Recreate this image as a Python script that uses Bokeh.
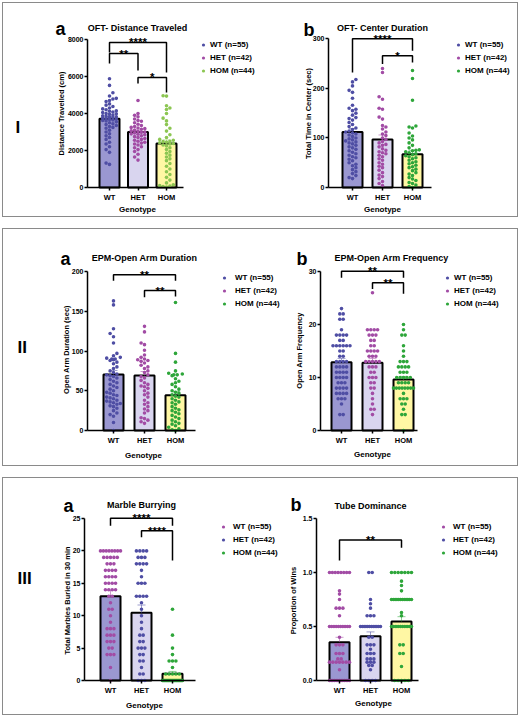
import math
from bokeh.plotting import figure
from bokeh.models import Range1d, FixedTicker, Label, Legend, LegendItem, NumeralTickFormatter
from bokeh.layouts import row, column
from bokeh.embed import file_html
from bokeh.resources import INLINE
from bokeh.core.properties import value

# ---------------- data ----------------
categories = ["WT", "HET", "HOM"]
legend_labels = ["WT (n=55)", "HET (n=42)", "HOM (n=44)"]

# I a: OFT distance travelled (cm)
oft_dist_wt = [5880, 5520, 5120, 4950, 4820, 4780, 4700, 4650, 4520, 4450, 4380, 4300, 4250, 4200, 4150,
               4120, 4080, 4050, 4000, 3980, 3950, 3920, 3880, 3850, 3820, 3800, 3780, 3750, 3720, 3700,
               3680, 3650, 3620, 3600, 3550, 3500, 3450, 3400, 3350, 3300, 3250, 3200, 3100, 3000, 2900,
               2800, 2700, 2600, 2450, 2350, 2200, 2050, 1900, 1320, 1250]
oft_dist_het = [4700, 4000, 3900, 3820, 3700, 3620, 3580, 3500, 3420, 3350, 3300, 3250, 3220, 3180, 3150,
                3100, 3060, 3020, 3000, 2980, 2950, 2900, 2880, 2850, 2800, 2750, 2700, 2650, 2600, 2550,
                2500, 2450, 2400, 2350, 2300, 2200, 2150, 2050, 1950, 1800, 1650, 1480]
oft_dist_hom = [4960, 4940, 4420, 4300, 4220, 4000, 3750, 3600, 3400, 3200, 3050, 2850, 2700, 2600, 2550,
                2500, 2480, 2450, 2420, 2380, 2350, 2300, 2250, 2150, 2050, 1950, 1850, 1750, 1650, 1550,
                1450, 1300, 1150, 1000, 850, 700, 550, 400, 250, 150, 100, 80, 50, 30]
oft_dist_mean = [3720, 3000, 2380]
oft_dist_sem = [120, 105, 190]

# I b: OFT center duration (sec)
oft_center_wt = [218, 213, 205, 196, 192, 180, 166, 160, 158, 155, 150, 146, 141, 139, 136, 131, 127, 123,
                 120, 117, 114, 112, 110, 108, 106, 103, 100, 98, 96, 94, 92, 90, 88, 85, 82, 80, 77, 74,
                 71, 68, 65, 62, 60, 57, 54, 50, 47, 44, 40, 36, 32, 28, 24, 20, 18]
oft_center_het = [240, 232, 183, 178, 160, 158, 142, 138, 125, 122, 118, 112, 108, 105, 100, 97, 93, 90,
                  87, 85, 82, 78, 75, 72, 70, 68, 65, 62, 58, 55, 50, 47, 43, 40, 35, 30, 25, 22, 18, 12, 8, 4]
oft_center_hom = [236, 220, 176, 124, 122, 120, 110, 104, 100, 96, 90, 85, 80, 76, 75, 74, 72, 70, 68, 66,
                  64, 62, 60, 58, 55, 52, 50, 48, 45, 42, 40, 37, 34, 30, 27, 24, 20, 17, 14, 10, 8, 5, 2, 0]
oft_center_mean = [112, 97, 67]
oft_center_sem = [7, 9, 8]

# II a: EPM open arm duration (sec)
epm_dur_wt = [163, 158, 128, 122, 118, 110, 97, 94, 92, 91, 90, 90, 89, 88, 86, 84, 80, 78, 75, 73, 71, 70,
              69, 68, 66, 64, 62, 60, 58, 56, 54, 52, 50, 48, 47, 45, 44, 42, 41, 40, 38, 37, 36, 35, 34,
              33, 31, 30, 28, 25, 22, 20, 18, 10, 0]
epm_dur_het = [131, 124, 110, 108, 101, 95, 92, 90, 89, 88, 87, 85, 82, 80, 78, 75, 73, 70, 68, 66, 63, 60,
               58, 56, 55, 53, 50, 47, 45, 42, 38, 35, 33, 30, 27, 25, 22, 16, 15, 13, 11, 9]
epm_dur_hom = [161, 97, 86, 75, 72, 71, 70, 70, 69, 65, 62, 60, 58, 55, 52, 50, 48, 47, 45, 43, 42, 40, 38,
               36, 35, 33, 30, 28, 26, 25, 23, 21, 19, 17, 15, 13, 11, 9, 8, 6, 4, 2, 1, 0]
epm_dur_mean = [70.5, 69.2, 44.3]
epm_dur_sem = [5, 5, 5]

# II b: EPM open arm frequency
epm_freq_wt = [23, 22, 22, 21, 21, 19, 18, 18, 18, 18, 17, 17, 16, 16, 16, 16, 16, 16, 15, 15, 14, 14,
               13, 13, 13, 13, 12, 12, 12, 12, 11, 11, 11, 11, 10, 10, 10, 10, 9, 9, 9, 8, 8, 8, 8,
               7, 7, 7, 7, 6, 6, 6, 5, 3, 3]
epm_freq_het = [26, 19, 19, 19, 19, 18, 18, 18, 17, 17, 16, 16, 15, 15, 15, 15, 14, 14, 14, 13, 13, 13,
                13, 13, 12, 12, 12, 11, 11, 10, 10, 10, 9, 9, 8, 8, 7, 6, 5, 4, 4, 3]
epm_freq_hom = [20, 19, 18, 18, 16, 15, 14, 13, 13, 13, 12, 12, 12, 12, 11, 11, 11, 10, 10, 10, 10, 10,
                9, 9, 9, 9, 8, 8, 8, 8, 8, 8, 8, 8, 7, 6, 6, 6, 5, 5, 4, 3, 3, 0]
epm_freq_mean = [12.9, 12.8, 9.6]
epm_freq_sem = [0.7, 0.8, 0.6]

# III a: marbles buried in 30 min
marble_wt = [20, 20, 20, 20, 20, 20, 20, 20, 19, 19, 19, 19, 19, 18, 18, 18, 17, 17, 17, 17, 16, 16, 16, 16,
             15, 15, 15, 15, 14, 14, 14, 14, 13, 13, 12, 11, 11, 10, 9, 8, 8, 8, 7, 7, 7, 6, 6, 6, 5, 5,
             4, 4, 4, 2, 0]
marble_het = [20, 20, 20, 20, 19, 19, 19, 18, 18, 18, 18, 17, 16, 15, 15, 15, 13, 13, 13, 13, 12, 11, 10,
              9, 8, 7, 7, 6, 6, 5, 5, 5, 4, 4, 3, 3, 2, 1, 1, 0, 0, 0]
marble_hom = [11, 7, 5, 4, 3, 3, 3, 2, 1, 1, 1, 1, 1, 0, 0, 0, 0, 0, 0, 0, 0, 0, 0, 0, 0, 0, 0, 0, 0, 0, 0,
              0, 0, 0, 0, 0, 0, 0, 0, 0, 0, 0, 0, 0]
marble_mean = [13.0, 10.45, 1.05]
marble_sem = [0.9, 1.2, 0.35]

# III b: tube dominance, proportion of wins
tube_wt = [1.0, 1.0, 1.0, 1.0, 1.0, 1.0, 1.0, 1.0, 0.83, 0.8, 0.75, 0.67, 0.67, 0.67, 0.6,
           0.5, 0.5, 0.5, 0.5, 0.5, 0.5, 0.5, 0.5, 0.5, 0.5, 0.4, 0.33, 0.33, 0.33, 0.25, 0.25, 0.25,
           0.2, 0.2, 0.17, 0.17, 0.17, 0.17, 0.17, 0.17, 0.17, 0.1,
           0, 0, 0, 0, 0, 0, 0, 0, 0, 0, 0, 0, 0]
tube_het = [1.0, 1.0, 0.75, 0.71, 0.67, 0.6, 0.6, 0.6, 0.5, 0.5, 0.5, 0.5, 0.5, 0.5, 0.5, 0.5, 0.5, 0.5,
            0.5, 0.5, 0.4, 0.4, 0.33, 0.33, 0.33, 0.29, 0.25, 0.25, 0.25, 0.2, 0.2, 0.2, 0.17, 0.17, 0.17,
            0.14, 0.14, 0.1, 0, 0, 0, 0]
tube_hom = [1.0, 1.0, 1.0, 1.0, 1.0, 1.0, 1.0, 0.92, 0.88, 0.83, 0.75, 0.75, 0.75, 0.75, 0.75, 0.75,
            0.75, 0.75, 0.75, 0.75, 0.75, 0.75, 0.63, 0.6, 0.5, 0.5, 0.5, 0.5, 0.5, 0.5, 0.5, 0.5, 0.5,
            0.5, 0.33, 0.33, 0.25, 0.25, 0.13, 0, 0, 0, 0, 0]
tube_mean = [0.355, 0.41, 0.546]
tube_sem = [0.045, 0.04, 0.045]

# significance brackets: (group a, group b, bar level, leg end a, leg end b, label)
oft_dist_sig = [("WT", "HOM", 7840, 7300, 6220, "****"),
                ("WT", "HET", 7240, 6700, 6320, "**"),
                ("HET", "HOM", 5950, 5620, 5140, "*")]
oft_center_sig = [("WT", "HOM", 300, 232, 276, "****"),
                  ("HET", "HOM", 266, 249, 252, "*")]
epm_dur_sig = [("WT", "HOM", 196, 188.5, 188.5, "**"),
               ("HET", "HOM", 176, 167.5, 168.5, "**")]
epm_freq_sig = [("WT", "HOM", 30.05, 28.8, 28.8, "**"),
                ("HET", "HOM", 27.9, 26.7, 25.8, "**")]
marble_sig = [("WT", "HOM", 25.05, 23.9, 23.9, "****"),
              ("HET", "HOM", 23.1, 22.1, 18.5, "****")]
tube_sig = [("WT", "HOM", 1.30, 1.11, 1.23, "**")]

# ---------------- style ----------------
FONT = "Liberation Sans"
BLUE = "#4F4EA4"
MAGENTA = "#A24CA5"
GREEN = "#2EA63A"
LGREEN = "#8CC652"
BAR_FILLS = ["#9A97D1", "#D9D5EF", "#FFF7A4"]
BORDER = "#8a8a8a"


def swarm(vals, ppu, d=3.4, half=10.0):
    """pixel x offsets so that points do not overlap (Prism-like scatter)"""
    n = len(vals)
    offs = [0.0] * n
    placed = []
    groups = {}
    for i, v in enumerate(vals):
        groups.setdefault(v, []).append(i)
    flip = 1
    for v in sorted(groups):
        idx = groups[v]
        y = v * ppu
        k = len(idx)
        if k > 1:
            stp = min(d, 2 * half / (k - 1))
            for j, i in enumerate(idx):
                offs[i] = (j - (k - 1) / 2) * stp
                placed.append((offs[i], y))
        else:
            cands = [0.0]
            m = 1
            while m * d <= half + 1e-9:
                cands += [flip * m * d, -flip * m * d]
                m += 1
            flip = -flip
            chosen = None
            for c in cands:
                if all((c - px) ** 2 + (y - py) ** 2 >= 0.9 * d * d for px, py in placed):
                    chosen = c
                    break
            if chosen is None:
                chosen = min(cands, key=lambda c: sum(max(0.0, d - math.hypot(c - px, y - py))
                                                      for px, py in placed))
            offs[idx[0]] = chosen
            placed.append((chosen, y))
    return offs


def make_panel(s):
    fx, fy, fw, fh = s["fig"]
    fl, fb = s["frame_left"], s["frame_bottom"]   # position of the y and x axis lines
    ppu = (fb - s["ytop_px"]) / s["ymax"]
    step = s["step"]
    x0 = 1 - (s["cx0"] - fl) / step

    def tx(px):
        return x0 + (px - fl) / step

    def ty(py):
        return (fb - py) / ppu

    p = figure(x_range=Range1d(tx(fx), tx(fx + fw)), y_range=Range1d(ty(fy + fh), ty(fy)),
               frame_width=fw, frame_height=fh, min_border=0,
               min_border_left=0, min_border_right=0, min_border_top=0, min_border_bottom=0,
               title=None, output_backend="svg", toolbar_location=None,
               outline_line_color=None, background_fill_color="white",
               border_fill_color="white")
    p.xgrid.visible = False
    p.ygrid.visible = False

    xa = p.xaxis[0]
    xa.fixed_location = 0
    xa.bounds = (x0, tx(s["xend"]))
    xa.ticker = FixedTicker(ticks=[1, 2, 3], minor_ticks=[])
    xa.major_label_overrides = {i + 1: c for i, c in enumerate(categories)}
    xa.major_label_text_font_size = "7.5px"
    xa.major_label_standoff = 2
    ya = p.yaxis[0]
    ya.fixed_location = x0
    ya.bounds = (0, s["ymax"])
    ya.ticker = FixedTicker(ticks=s["yticks"], minor_ticks=[])
    ya.major_label_text_font_size = "7px"
    ya.major_label_standoff = 1
    if s.get("fmt"):
        ya.formatter = NumeralTickFormatter(format=s["fmt"])
    for ax in (xa, ya):
        ax.axis_line_width = 1.5
        ax.axis_line_color = "black"
        ax.major_tick_line_width = 1.5
        ax.major_tick_in = 0
        ax.major_tick_out = 3
        ax.minor_tick_line_color = None
        ax.major_label_text_font = FONT
        ax.major_label_text_font_style = "bold"
        ax.major_label_text_color = "black"

    xs = [1, 2, 3]
    means, sems, cols = s["means"], s["sems"], s["colors"]
    bw = 20 / step
    p.vbar(x=xs, top=means, width=bw, bottom=0, fill_color=BAR_FILLS,
           line_color="black", line_width=2)
    tops = [m + e for m, e in zip(means, sems)]
    p.segment(x0=xs, y0=means, x1=xs, y1=tops, line_color=cols, line_alpha=0.55, line_width=1)
    cw = 4 / step
    p.segment(x0=[x - cw for x in xs], y0=tops, x1=[x + cw for x in xs], y1=tops,
              line_color=cols, line_alpha=0.55, line_width=1)

    rends = []
    for g, vals in enumerate(s["values"]):
        offs = swarm(vals, ppu)
        px = [g + 1 + o / step for o in offs]
        r = p.scatter(px, vals, size=3.6, fill_color=cols[g], line_color=None)
        rends.append(r)

    # brackets
    bx, by, sx, sy, st = [], [], [], [], []
    for a, b, lvl, ea, eb, lab in s["sig"]:
        ia, ib = categories.index(a) + 1, categories.index(b) + 1
        bx.append([ia, ia, ib, ib])
        by.append([ea, lvl, lvl, eb])
        sx.append((ia + ib) / 2)
        sy.append(lvl)
        st.append(lab)
    p.multi_line(xs=bx, ys=by, line_color="black", line_width=1.5)
    p.text(x=sx, y=sy, text=st, text_font=value(FONT), text_font_size="11.5px",
           text_font_style="bold", text_align="center", text_baseline="alphabetic",
           text_color="black")

    # legend
    left = s["leg"][0] - 4
    top = s["leg"][2] - 6.5
    items = [LegendItem(label=legend_labels[i], renderers=[rends[i]]) for i in range(3)]
    leg = Legend(items=items, location=(left - fx, (fy + fh) - (top + 39)), orientation="vertical",
                 padding=0, margin=0, spacing=0, glyph_width=8, glyph_height=13,
                 label_height=13, label_standoff=int(round(s["leg"][1] - left - 8)),
                 label_text_font=FONT, label_text_font_size="8px",
                 label_text_font_style="bold", label_text_color="black",
                 border_line_color=None, background_fill_alpha=0)
    p.add_layout(leg)

    def lab(px, py, text, size, align="left", baseline="alphabetic", angle=0.0):
        p.add_layout(Label(x=tx(px), y=ty(py), text=text, text_font=FONT, text_font_size=size,
                           text_font_style="bold", text_align=align, text_baseline=baseline,
                           angle=angle, text_color="black"))

    t, px_, py_ = s["title"]
    lab(px_, py_, t, "9px", align="center")
    t, px_, py_ = s["letter"]
    lab(px_, py_, t, "18px")
    if s.get("numeral"):
        t, px_, py_ = s["numeral"]
        lab(px_, py_, t, "17px")
    t, px_, py_ = s["ylabel"]
    lab(px_, py_, t, "7.5px", align="center", baseline="middle", angle=math.pi / 2)
    px_, py_ = s["xlabel"]
    lab(px_, py_, "Genotype", "8px", align="center", baseline="middle")
    return p


specs = [
    dict(fig=(3, 3, 285, 213), frame_left=87, frame_bottom=187, ytop_px=39, ymax=8000,
         yticks=[0, 2000, 4000, 6000, 8000], cx0=109, step=28.5, xend=183,
         values=[oft_dist_wt, oft_dist_het, oft_dist_hom], means=oft_dist_mean, sems=oft_dist_sem,
         colors=[BLUE, MAGENTA, LGREEN], sig=oft_dist_sig,
         title=("OFT- Distance Traveled", 137, 27), letter=("a", 55, 28), numeral=("I", 15, 127),
         ylabel=("Distance Travelled (cm)", 61, 113), xlabel=(137, 209), leg=(203, 210, 44)),
    dict(fig=(288, 3, 229, 213), frame_left=328, frame_bottom=187, ytop_px=38.3, ymax=300,
         yticks=[0, 100, 200, 300], cx0=352, step=30, xend=431,
         values=[oft_center_wt, oft_center_het, oft_center_hom], means=oft_center_mean,
         sems=oft_center_sem, colors=[BLUE, MAGENTA, GREEN], sig=oft_center_sig,
         title=("OFT- Center Duration", 382, 27), letter=("b", 303, 29),
         ylabel=("Total Time in Center (sec)", 308, 113), xlabel=(382, 209), leg=(458, 465, 44)),
    dict(fig=(3, 229, 285, 236), frame_left=87, frame_bottom=430, ytop_px=271, ymax=200,
         yticks=[0, 50, 100, 150, 200], cx0=113, step=31, xend=195,
         values=[epm_dur_wt, epm_dur_het, epm_dur_hom], means=epm_dur_mean, sems=epm_dur_sem,
         colors=[BLUE, MAGENTA, GREEN], sig=epm_dur_sig,
         title=("EPM-Open Arm Duration", 144, 257), letter=("a", 60, 258), numeral=("II", 17, 347),
         ylabel=("Open Arm Duration (sec)", 66, 349), xlabel=(143, 455), leg=(224, 235, 277)),
    dict(fig=(288, 229, 229, 236), frame_left=320, frame_bottom=430, ytop_px=271, ymax=30,
         yticks=[0, 10, 20, 30], cx0=341, step=31, xend=417,
         values=[epm_freq_wt, epm_freq_het, epm_freq_hom], means=epm_freq_mean, sems=epm_freq_sem,
         colors=[BLUE, MAGENTA, GREEN], sig=epm_freq_sig,
         title=("EPM-Open Arm Frequency", 391, 257), letter=("b", 296, 258),
         ylabel=("Open Arm Frequency", 299, 350), xlabel=(372, 454), leg=(447, 454, 277)),
    dict(fig=(3, 478, 285, 236), frame_left=84, frame_bottom=680, ytop_px=518, ymax=25,
         yticks=[0, 5, 10, 15, 20, 25], cx0=110, step=31, xend=195,
         values=[marble_wt, marble_het, marble_hom], means=marble_mean, sems=marble_sem,
         colors=[MAGENTA, BLUE, GREEN], sig=marble_sig,
         title=("Marble Burrying", 141, 504), letter=("a", 63, 505), numeral=("III", 17, 578),
         ylabel=("Total Marbles Buried in 30 min", 67, 600), xlabel=(144, 705), leg=(223, 233, 526)),
    dict(fig=(288, 478, 229, 236), frame_left=316, frame_bottom=680, ytop_px=518, ymax=1.5,
         yticks=[0, 0.5, 1.0, 1.5], fmt="0.0", cx0=339, step=31, xend=418,
         values=[tube_wt, tube_het, tube_hom], means=tube_mean, sems=tube_sem,
         colors=[MAGENTA, BLUE, GREEN], sig=tube_sig,
         title=("Tube Dominance", 370, 505), letter=("b", 290, 504),
         ylabel=("Proportion of Wins", 293, 600), xlabel=(373, 703), leg=(443, 453, 526)),
]

figs = [make_panel(s) for s in specs]
box = {"border": "1px solid " + BORDER}
r1 = row(figs[0], figs[1], styles=box)
r2 = row(figs[2], figs[3], styles=box)
r3 = row(figs[4], figs[5], styles=box)
layout = column(r1, r2, r3, spacing=11, styles={"margin-left": "2px", "margin-top": "2px"})

open("out.html", "w").write(file_html(layout, INLINE))
